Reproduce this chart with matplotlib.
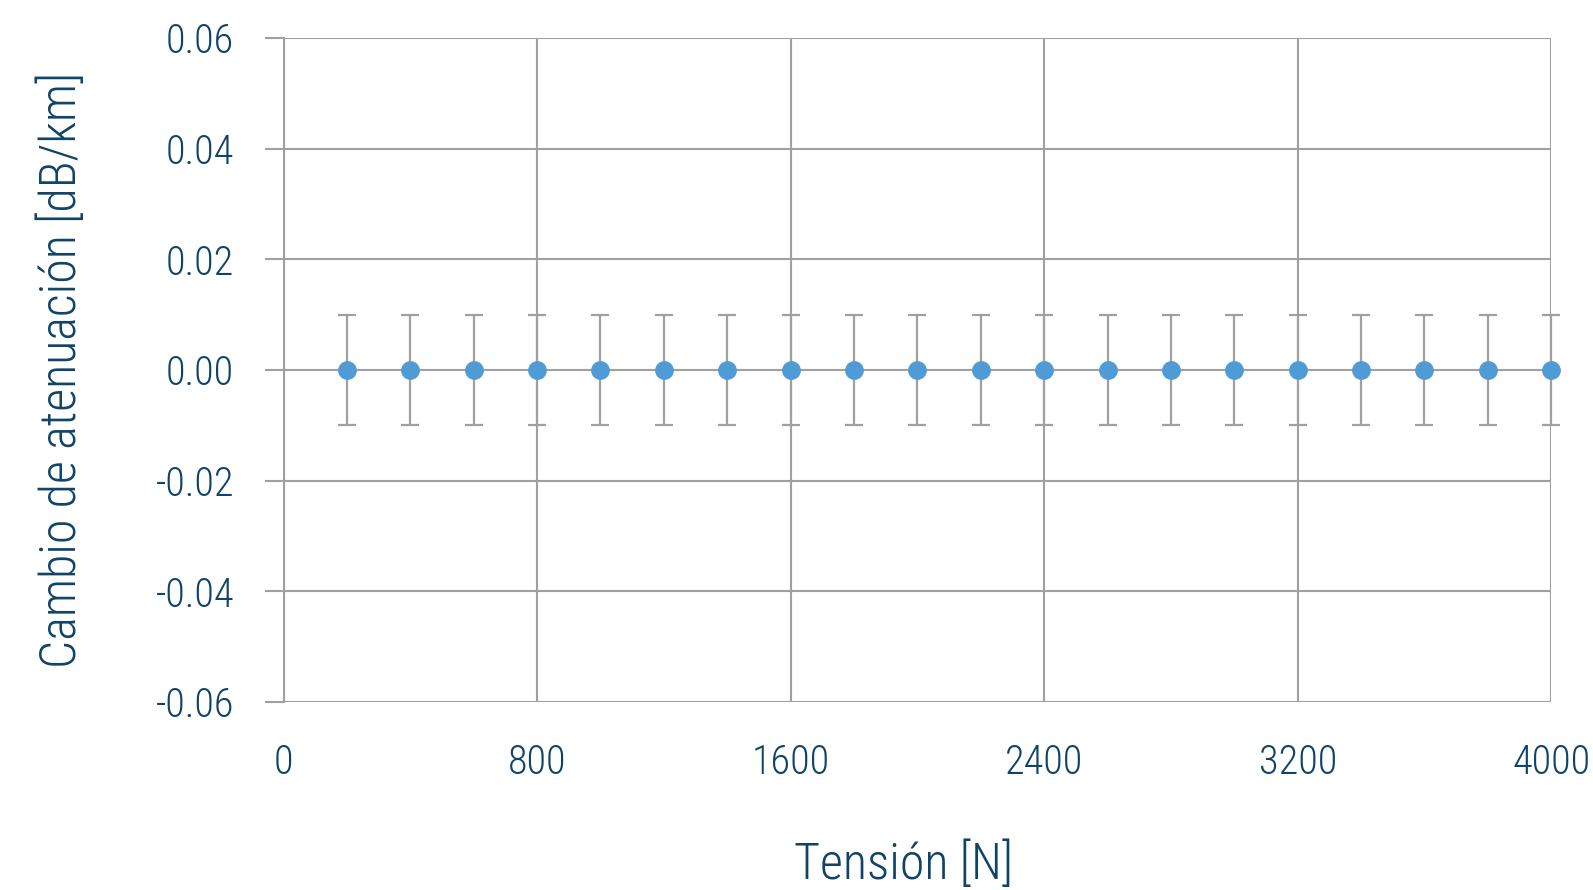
import matplotlib
matplotlib.use('Agg')
import matplotlib.pyplot as plt
from matplotlib import font_manager

# valores
tension = [200, 400, 600, 800, 1000, 1200, 1400, 1600, 1800, 2000,
           2200, 2400, 2600, 2800, 3000, 3200, 3400, 3600, 3800, 4000]
cambio = [0.0] * 20
error = [0.01] * 20

xticks = [0, 800, 1600, 2400, 3200, 4000]
yticks = [-0.06, -0.04, -0.02, 0.0, 0.02, 0.04, 0.06]

# buscar una fuente estrecha instalada
fuente = None
prefer = ['RobotoCondensed-Light', 'RobotoCondensed-Regular', 'Roboto_Condensed-Light',
          'Roboto_Condensed-Regular', 'DejaVuSansCondensed.', 'LiberationSansNarrow-Regular',
          'OpenSans_Condensed-Light', 'OpenSans_Condensed-Regular', 'Condensed', 'Narrow']
files = [f.fname for f in font_manager.fontManager.ttflist]
for p in prefer:
    for f in files:
        base = f.split('/')[-1]
        if p in base and 'Bold' not in base and 'Oblique' not in base and 'Italic' not in base:
            fuente = f
            break
    if fuente:
        break

def fp(size):
    if fuente:
        return font_manager.FontProperties(fname=fuente, size=size)
    return font_manager.FontProperties(family='DejaVu Sans', size=size)

txt = '#0f4468'
gris = '#a0a0a3'

fig = plt.figure(figsize=(15.93, 8.90), dpi=100)
ax = fig.add_axes([0.178, 0.2112, 0.7958, 0.7461])

ax.errorbar(tension, cambio, yerr=error, fmt='o', color='#4f9bd6', markersize=12.5,
            ecolor=gris, elinewidth=1.6, capsize=6.5, capthick=1.6, zorder=3, clip_on=False)

ax.set_xlim(0, 4000)
ax.set_ylim(-0.06, 0.06)
ax.set_xticks(xticks)
ax.set_yticks(yticks)
ax.set_xticklabels([str(v) for v in xticks], fontproperties=fp(29), color=txt)
ax.set_yticklabels(['%.2f' % v for v in yticks], fontproperties=fp(29), color=txt)
ax.grid(True, color=gris, linewidth=1.5)
ax.set_axisbelow(True)
for s in ['top', 'right', 'bottom']:
    ax.spines[s].set_visible(False)
ax.spines['left'].set_color(gris)
ax.spines['left'].set_linewidth(1.5)

ax.tick_params(axis='y', length=13.5, width=1.5, color=gris, pad=22)
ax.tick_params(axis='x', length=0, pad=30)

ax.set_xlabel('Tensión [N]', fontproperties=fp(36), color=txt, labelpad=42)
ax.xaxis.label.set_x(0.489)
ax.set_ylabel('Cambio de atenuación [dB/km]', fontproperties=fp(36), color=txt, labelpad=50)

fig.savefig('out.png', dpi=100)
